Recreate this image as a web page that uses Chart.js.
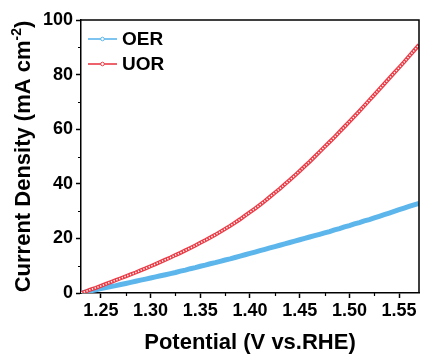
<!DOCTYPE html>
<html>
<head>
<meta charset="utf-8">
<script src="https://cdn.jsdelivr.net/npm/chart.js@4"></script>
<style>
  html, body { margin: 0; padding: 0; background: #ffffff; }
  canvas { display: block; }
</style>
</head>
<body>
<canvas id="lsv" width="423" height="356"></canvas>
<script>
// Potential (V vs. RHE), 5 mV steps
const potential = [
  1.230, 1.235, 1.240, 1.245, 1.250, 1.255, 1.260, 1.265, 1.270, 1.275,
  1.280, 1.285, 1.290, 1.295, 1.300, 1.305, 1.310, 1.315, 1.320, 1.325,
  1.330, 1.335, 1.340, 1.345, 1.350, 1.355, 1.360, 1.365, 1.370, 1.375,
  1.380, 1.385, 1.390, 1.395, 1.400, 1.405, 1.410, 1.415, 1.420, 1.425,
  1.430, 1.435, 1.440, 1.445, 1.450, 1.455, 1.460, 1.465, 1.470, 1.475,
  1.480, 1.485, 1.490, 1.495, 1.500, 1.505, 1.510, 1.515, 1.520, 1.525,
  1.530, 1.535, 1.540, 1.545, 1.550, 1.555, 1.560, 1.565, 1.570
];

// Current density (mA cm-2), oxygen evolution
const oerCurrent = [
  0.0, 0.4, 0.8, 1.2, 1.6, 2.0, 2.4, 2.7, 3.1, 3.5,
  3.9, 4.3, 4.7, 5.1, 5.5, 5.9, 6.3, 6.7, 7.1, 7.5,
  8.0, 8.4, 8.9, 9.3, 9.8, 10.2, 10.7, 11.1, 11.6, 12.1,
  12.5, 13.0, 13.5, 14.0, 14.5, 15.0, 15.5, 16.0, 16.5, 17.0,
  17.5, 18.0, 18.5, 19.0, 19.5, 20.0, 20.5, 21.0, 21.5, 22.0,
  22.5, 23.1, 23.6, 24.2, 24.7, 25.3, 25.8, 26.4, 26.9, 27.5,
  28.1, 28.7, 29.3, 29.9, 30.5, 31.1, 31.7, 32.3, 32.8
];

// Current density (mA cm-2), urea oxidation
const uorCurrent = [
  0.0, 0.6, 1.3, 1.9, 2.6, 3.3, 4.0, 4.7, 5.4, 6.1,
  6.8, 7.5, 8.3, 9.0, 9.8, 10.6, 11.4, 12.2, 13.0, 13.9,
  14.7, 15.6, 16.5, 17.4, 18.4, 19.3, 20.3, 21.3, 22.4, 23.5,
  24.6, 25.8, 27.0, 28.3, 29.6, 30.9, 32.3, 33.7, 35.2, 36.7,
  38.2, 39.8, 41.4, 43.0, 44.7, 46.4, 48.1, 49.9, 51.7, 53.5,
  55.3, 57.1, 59.0, 60.9, 62.8, 64.7, 66.6, 68.6, 70.6, 72.6,
  74.6, 76.6, 78.6, 80.6, 82.6, 84.6, 86.7, 88.8, 90.9
];

const seriesNames = ['OER', 'UOR'];
const xMajorTicks = [1.25, 1.30, 1.35, 1.40, 1.45, 1.50, 1.55];
const xMinorTicks = [1.275, 1.325, 1.375, 1.425, 1.475, 1.525];
const yMajorTicks = [0, 20, 40, 60, 80, 100];
const yMinorTicks = [10, 30, 50, 70, 90];

const BLUE = 'rgb(92,182,236)';
const RED = 'rgb(234,60,70)';
const FONT = '"Liberation Sans", Arial, sans-serif';

const toPoints = ys => potential.map((v, i) => ({ x: v, y: ys[i] }));

// Frame, minor ticks, in-plot legend and the y-axis title with superscript
const decorations = {
  id: 'decorations',
  afterDraw(chart) {
    const { ctx, chartArea: a, scales } = chart;
    ctx.save();
    ctx.strokeStyle = '#000';
    ctx.lineWidth = 1.5;

    // top and right edges of the box
    ctx.beginPath();
    ctx.moveTo(a.left, a.top);
    ctx.lineTo(a.right, a.top);
    ctx.lineTo(a.right, a.bottom);
    ctx.stroke();

    // minor ticks
    ctx.lineWidth = 1.2;
    ctx.beginPath();
    yMinorTicks.forEach(v => {
      const y = Math.round(scales.y.getPixelForValue(v)) + 0.5;
      ctx.moveTo(a.left - 3, y);
      ctx.lineTo(a.left, y);
    });
    xMinorTicks.forEach(v => {
      const x = Math.round(scales.x.getPixelForValue(v)) + 0.5;
      ctx.moveTo(x, a.bottom);
      ctx.lineTo(x, a.bottom + 3);
    });
    ctx.stroke();

    // legend
    const colors = [BLUE, RED];
    seriesNames.forEach((name, i) => {
      const y = a.top + 19 + i * 25;
      const x0 = a.left + 7, x1 = a.left + 36;
      ctx.strokeStyle = colors[i];
      ctx.lineWidth = 1.6;
      ctx.beginPath();
      ctx.moveTo(x0, y);
      ctx.lineTo(x1, y);
      ctx.stroke();
      ctx.fillStyle = '#fff';
      ctx.lineWidth = 1;
      ctx.beginPath();
      ctx.arc((x0 + x1) / 2, y, 1.8, 0, Math.PI * 2);
      ctx.fill();
      ctx.stroke();
      ctx.fillStyle = '#000';
      ctx.font = 'bold 19px ' + FONT;
      ctx.textBaseline = 'middle';
      ctx.textAlign = 'left';
      ctx.fillText(name, a.left + 41, y + 1);
    });

    // y-axis title
    const main = 'Current Density (mA cm';
    const sup = '-2';
    const tail = ')';
    ctx.translate(22, (a.top + a.bottom) / 2);
    ctx.rotate(-Math.PI / 2);
    ctx.fillStyle = '#000';
    ctx.textAlign = 'left';
    ctx.textBaseline = 'alphabetic';
    ctx.font = 'bold 22px ' + FONT;
    const w1 = ctx.measureText(main).width;
    const w3 = ctx.measureText(tail).width;
    ctx.font = 'bold 14px ' + FONT;
    const w2 = ctx.measureText(sup).width;
    let x = -(w1 + w2 + w3) / 2;
    const base = 8;
    ctx.font = 'bold 22px ' + FONT;
    ctx.fillText(main, x, base);
    x += w1;
    ctx.font = 'bold 14px ' + FONT;
    ctx.fillText(sup, x, base - 9);
    x += w2;
    ctx.font = 'bold 22px ' + FONT;
    ctx.fillText(tail, x, base);
    ctx.restore();
  }
};

new Chart(document.getElementById('lsv'), {
  type: 'line',
  data: {
    datasets: [
      {
        label: seriesNames[0],
        data: toPoints(oerCurrent),
        borderColor: BLUE,
        borderWidth: 5,
        pointRadius: 0,
        tension: 0,
        order: 3
      },
      {
        label: seriesNames[1],
        data: toPoints(uorCurrent),
        borderColor: RED,
        borderWidth: 4,
        pointRadius: 0,
        tension: 0,
        order: 2
      },
      {
        // hollow centres of the UOR marker chain
        label: seriesNames[1] + ' markers',
        data: toPoints(uorCurrent),
        borderColor: 'rgba(255,255,255,0.95)',
        borderWidth: 1.6,
        borderDash: [1.3, 1.6],
        pointRadius: 0,
        tension: 0,
        order: 1
      }
    ]
  },
  options: {
    responsive: false,
    animation: false,
    events: [],
    layout: { padding: { top: 20, right: 4, left: 0, bottom: 0 } },
    plugins: {
      legend: { display: false },
      tooltip: { enabled: false }
    },
    scales: {
      x: {
        type: 'linear',
        min: 1.23,
        max: 1.57,
        afterBuildTicks: s => { s.ticks = xMajorTicks.map(v => ({ value: v })); },
        afterFit: s => { s.height = 63; },
        ticks: {
          callback: v => v.toFixed(2),
          color: '#000',
          font: { family: FONT, size: 18, weight: 'bold' },
          padding: 2,
          maxRotation: 0,
          autoSkip: false
        },
        grid: {
          drawOnChartArea: false,
          tickLength: 5,
          tickColor: '#000',
          tickWidth: 1.5
        },
        border: { color: '#000', width: 1.5 },
        title: {
          display: true,
          text: 'Potential (V vs.RHE)',
          color: '#000',
          font: { family: FONT, size: 22, weight: 'bold' },
          padding: { top: 6, bottom: 0 }
        }
      },
      y: {
        type: 'linear',
        min: 0,
        max: 100,
        afterBuildTicks: s => { s.ticks = yMajorTicks.map(v => ({ value: v })); },
        afterFit: s => { s.width = 81; },
        ticks: {
          color: '#000',
          font: { family: FONT, size: 18, weight: 'bold' },
          padding: 3
        },
        grid: {
          drawOnChartArea: false,
          tickLength: 5,
          tickColor: '#000',
          tickWidth: 1.5
        },
        border: { color: '#000', width: 1.5 }
      }
    }
  },
  plugins: [decorations]
});
</script>
</body>
</html>
